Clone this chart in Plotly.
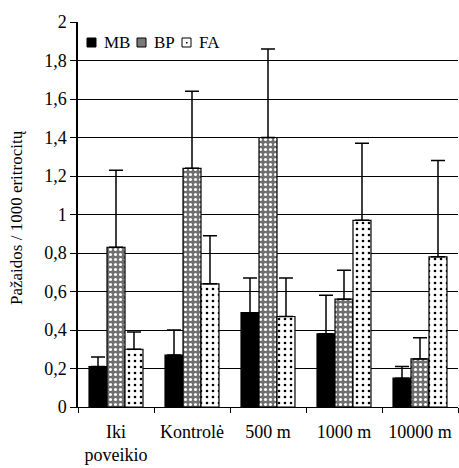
import plotly.graph_objects as go

categories = ["Iki<br>poveikio", "Kontrolė", "500 m", "1000 m", "10000 m"]

mb_values = [0.21, 0.27, 0.49, 0.38, 0.15]
bp_values = [0.83, 1.24, 1.40, 0.56, 0.25]
fa_values = [0.30, 0.64, 0.47, 0.97, 0.78]

# upper error limits (absolute), error bars drawn upward only
mb_upper = [0.26, 0.40, 0.67, 0.58, 0.21]
bp_upper = [1.23, 1.64, 1.86, 0.71, 0.36]
fa_upper = [0.39, 0.89, 0.67, 1.37, 1.28]

series_names = ["MB", "BP", "FA"]
y_title = "Pažaidos / 1000 eritrocitų"

FONT = "Liberation Serif"
W, H = 459, 468
ML, MR, MT, MB_ = 78, 1, 22, 61


def err(vals, upper):
    return dict(
        type="data",
        symmetric=False,
        array=[u - v for u, v in zip(upper, vals)],
        arrayminus=[0] * len(vals),
        color="black",
        thickness=1.5,
        width=7,
    )


mb_marker = dict(color="black", line=dict(color="black", width=1.2))
bp_marker = dict(
    color="#707070",
    line=dict(color="black", width=1.2),
    pattern=dict(shape=".", fgcolor="white", bgcolor="#707070",
                 size=5, solidity=0.3, fillmode="replace"),
)
fa_marker = dict(
    color="white",
    line=dict(color="black", width=1.2),
    pattern=dict(shape=".", fgcolor="black", bgcolor="white",
                 size=6, solidity=0.15, fillmode="replace"),
)

fig = go.Figure()
for name, vals, upper, marker in [
    ("MB", mb_values, mb_upper, mb_marker),
    ("BP", bp_values, bp_upper, bp_marker),
    ("FA", fa_values, fa_upper, fa_marker),
]:
    fig.add_trace(go.Bar(name=name, x=categories, y=vals, marker=marker,
                         error_y=err(vals, upper), showlegend=False))

# compact legend row and axis title placed in paper coordinates
pw, ph = W - ML - MR, H - MT - MB_


def px_x(x):
    return (x - ML) / pw


def px_y(y):
    return (H - MB_ - y) / ph


swatch_fill = ["black", "#7a7a7a", "white"]
swatch_x = [87, 137, 182]
text_x = [102, 152, 197]
y0, y1 = 38, 47
shapes = []
annotations = []
for name, fill, sx, tx in zip(series_names, swatch_fill, swatch_x, text_x):
    shapes.append(dict(type="rect", xref="paper", yref="paper",
                       x0=px_x(sx), x1=px_x(sx + 9), y0=px_y(y1), y1=px_y(y0),
                       fillcolor=fill, line=dict(color="black", width=1)))
    annotations.append(dict(xref="paper", yref="paper", x=px_x(tx),
                            y=px_y((y0 + y1) / 2), text=name, showarrow=False,
                            xanchor="left", yanchor="middle",
                            font=dict(family=FONT, size=17, color="black")))
# dot inside the FA swatch
shapes.append(dict(type="rect", xref="paper", yref="paper",
                   x0=px_x(186), x1=px_x(187.5), y0=px_y(43.5), y1=px_y(42),
                   fillcolor="black", line=dict(width=0)))

annotations.append(dict(xref="paper", yref="paper", x=px_x(17), y=px_y(218),
                        text=y_title, textangle=-90, showarrow=False,
                        xanchor="center", yanchor="middle",
                        font=dict(family=FONT, size=17, color="black")))

fig.update_layout(
    width=W, height=H,
    margin=dict(l=ML, r=MR, t=MT, b=MB_),
    paper_bgcolor="white", plot_bgcolor="white",
    separators=",.",
    barmode="group", bargap=0.29, bargroupgap=0,
    font=dict(family=FONT, size=18, color="black"),
    showlegend=False,
    shapes=shapes,
    annotations=annotations,
    xaxis=dict(
        showline=True, linecolor="black", linewidth=1,
        ticks="outside", ticklen=5, tickcolor="black", tickson="boundaries",
        showgrid=False, tickfont=dict(family=FONT, size=18),
        range=[-0.5, 4.5], ticklabelstandoff=8,
    ),
    yaxis=dict(
        range=[0, 2], dtick=0.2, tick0=0,
        showline=True, linecolor="black", linewidth=1.5,
        ticks="outside", ticklen=6, tickcolor="black",
        showgrid=True, gridcolor="black", gridwidth=1,
        zeroline=False,
        tickfont=dict(family=FONT, size=18),
    ),
)

fig.write_html("out.html")
